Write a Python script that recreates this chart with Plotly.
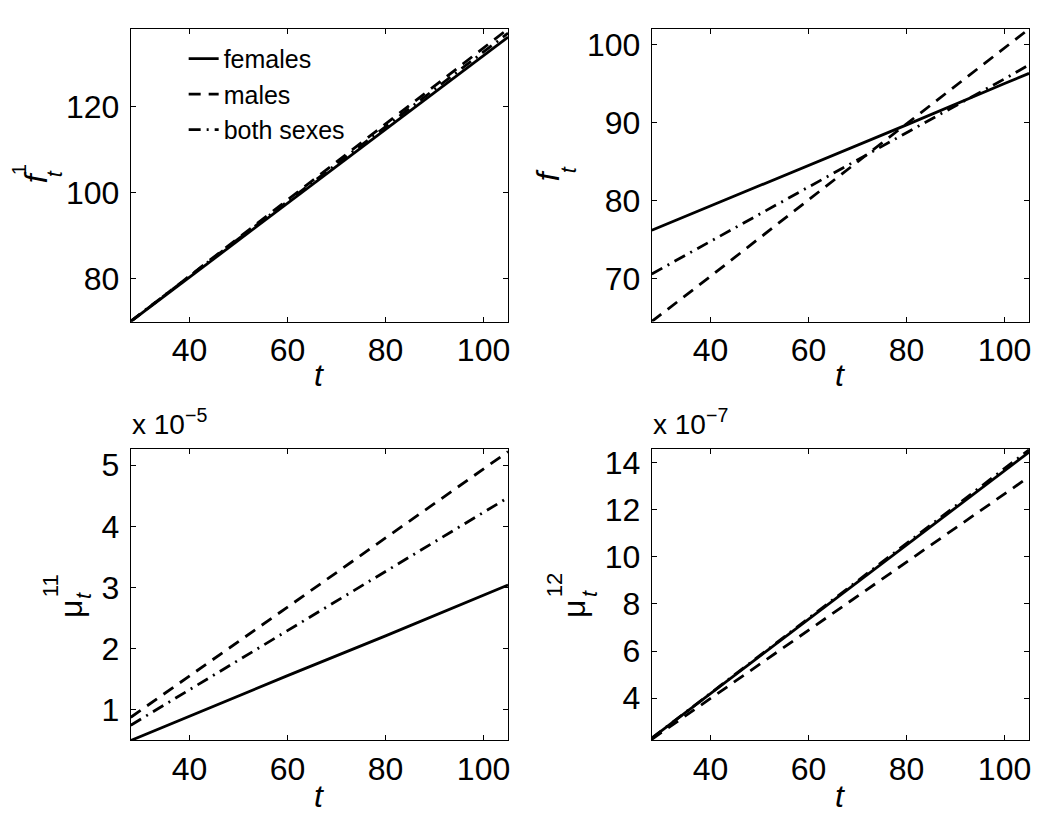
import plotly.graph_objects as go

# ---------------- data ----------------
t = [28, 40, 60, 80, 100, 105]

# panel 1: f^1_t
f1_females = [70.0, 80.3, 97.5, 114.6, 131.8, 136.1]
f1_males = [70.0, 80.6, 98.3, 115.9, 133.6, 138.0]
f1_both = [70.1, 80.5, 97.9, 115.3, 132.7, 137.0]

# panel 2: f_t
f_females = [76.2, 79.3, 84.5, 89.7, 95.0, 96.3]
f_males = [64.5, 70.3, 80.1, 89.8, 99.6, 102.0]
f_both = [70.6, 74.8, 81.7, 88.7, 95.6, 97.4]

# panel 3: mu^11_t  (x 1e-5)
mu11_females = [0.50, 0.90, 1.56, 2.21, 2.87, 3.04]
mu11_males = [0.88, 1.56, 2.68, 3.81, 4.94, 5.22]
mu11_both = [0.75, 1.33, 2.30, 3.26, 4.23, 4.47]

# panel 4: mu^12_t  (x 1e-7)
mu12_females = [2.30, 4.19, 7.35, 10.51, 13.66, 14.45]
mu12_males = [2.25, 3.99, 6.88, 9.78, 12.68, 13.40]
mu12_both = [2.30, 4.21, 7.39, 10.57, 13.76, 14.55]

series_names = ["females", "males", "both sexes"]
x_ticks = [40, 60, 80, 100]
y_ticks_1 = [80, 100, 120]
y_ticks_2 = [70, 80, 90, 100]
y_ticks_3 = [1, 2, 3, 4, 5]
y_ticks_4 = [4, 6, 8, 10, 12, 14]

# ---------------- layout helpers ----------------
W, H = 1050, 834
OFF = 8  # default page body margin
FONT = "Liberation Sans, Arial, sans-serif"


def px(x):
    return (x - OFF) / W


def py(y):
    return 1 - (y - OFF) / H


dashes = ["solid", "12px,8px", "12px,6px,2px,6px"]

fig = go.Figure()

panels = [
    ("x", "y", [f1_females, f1_males, f1_both]),
    ("x2", "y2", [f_females, f_males, f_both]),
    ("x3", "y3", [mu11_females, mu11_males, mu11_both]),
    ("x4", "y4", [mu12_females, mu12_males, mu12_both]),
]

for i, (xa, ya, ys) in enumerate(panels):
    for j, yv in enumerate(ys):
        fig.add_trace(go.Scatter(
            x=t, y=yv, xaxis=xa, yaxis=ya, mode="lines",
            name=series_names[j], showlegend=(i == 0),
            line=dict(color="black", width=2.8, dash=dashes[j]),
        ))

xdom_l = [px(131), px(509)]
xdom_r = [px(653), px(1031)]
ydom_t = [py(319), py(25)]
ydom_b = [py(740), py(446.7)]

axis_common = dict(
    showline=True, mirror="allticks", linecolor="black", linewidth=1,
    ticks="inside", ticklen=5, tickcolor="black", tickwidth=1,
    showgrid=False, zeroline=False,
    tickfont=dict(family=FONT, size=32, color="black"),
)
xax = dict(range=[28, 105], tickvals=x_ticks, **axis_common)
yax = dict(ticklabelstandoff=4, **axis_common)

fig.update_layout(
    width=W, height=H,
    margin=dict(l=0, r=0, t=0, b=0),
    paper_bgcolor="white", plot_bgcolor="white",
    font=dict(family=FONT, color="black"),
    xaxis=dict(domain=xdom_l, anchor="y", **xax),
    yaxis=dict(domain=ydom_t, anchor="x", range=[70, 138], tickvals=y_ticks_1, **yax),
    xaxis2=dict(domain=xdom_r, anchor="y2", **xax),
    yaxis2=dict(domain=ydom_t, anchor="x2", range=[64.5, 102], tickvals=y_ticks_2, **yax),
    xaxis3=dict(domain=xdom_l, anchor="y3", **xax),
    yaxis3=dict(domain=ydom_b, anchor="x3", range=[0.5, 5.27], tickvals=y_ticks_3, **yax),
    xaxis4=dict(domain=xdom_r, anchor="y4", **xax),
    yaxis4=dict(domain=ydom_b, anchor="x4", range=[2.2, 14.6], tickvals=y_ticks_4, **yax),
    legend=dict(
        x=px(184), y=py(32), xanchor="left", yanchor="top",
        bgcolor="rgba(255,255,255,0)", borderwidth=0,
        font=dict(family=FONT, size=25, color="black"),
        itemwidth=30, tracegroupgap=0,
    ),
    showlegend=True,
)

annotations = []


def ann(text, x, y, size, angle=0, xanchor="center", yanchor="middle"):
    annotations.append(dict(
        text=text, x=px(x), y=py(y), xref="paper", yref="paper",
        showarrow=False, textangle=angle, xanchor=xanchor, yanchor=yanchor,
        font=dict(family=FONT, size=size, color="black"),
    ))


# x-axis titles
for cx in (320, 842):
    ann("<i>t</i>", cx, 373, 32)
    ann("<i>t</i>", cx, 796, 32)

# y-axis titles (stacked super/subscripts)
ann("<i>f</i>", 36, 174, 32, -90)
ann("1", 19, 166, 20, -90)
ann("<i>t</i>", 54, 170, 22, -90)

ann("<i>f</i>", 549, 172, 32, -90)
ann("<i>t</i>", 569, 166, 22, -90)

ann("μ", 71, 608, 32, -90)
ann("11", 50, 584, 22, -90)
ann("<i>t</i>", 83, 594, 22, -90)

ann("μ", 575, 608, 32, -90)
ann("12", 555, 584, 22, -90)
ann("<i>t</i>", 590, 592, 22, -90)

# exponent labels
ann("x 10<sup>−5</sup>", 130, 440, 28, 0, "left", "bottom")
ann("x 10<sup>−7</sup>", 652, 440, 28, 0, "left", "bottom")

fig.update_layout(annotations=annotations)

fig.write_html("out.html")
